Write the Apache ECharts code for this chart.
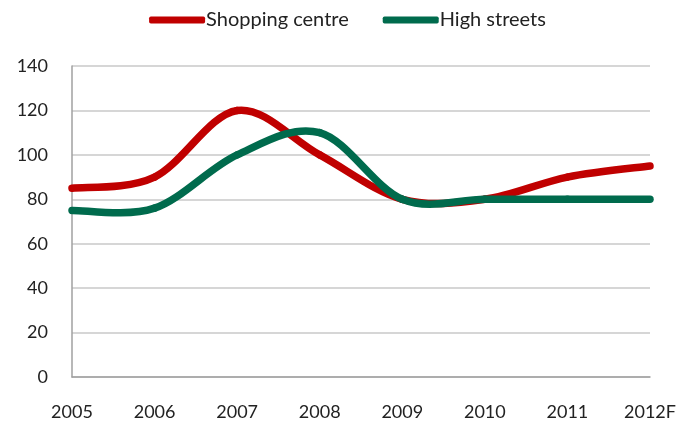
<!DOCTYPE html>
<html><head><meta charset="utf-8">
<script src="https://cdn.jsdelivr.net/npm/echarts@6/dist/echarts.min.js"></script>
<style>html,body{margin:0;padding:0;background:#fff}#c{width:695px;height:426px}</style>
</head><body><div id="c"></div>
<script>
const categories = ['2005','2006','2007','2008','2009','2010','2011','2012F'];
const shoppingCentre = [85, 90, 120, 100, 80, 80, 90, 95];
const highStreets = [75, 76, 100, 110, 80, 80, 80, 80];
const yTicks = {min: 0, max: 140, interval: 20};

const font = 'Lato';
const RED = '#C00000', GREEN = '#006B4D';

// Excel-like (Catmull-Rom) smoothed segment drawn through the axis scales
function smoothRenderer(values, color) {
  return function (params, api) {
    const i = params.dataIndex;
    const n = values.length;
    if (i >= n - 1) return null;
    const p = k => api.coord([Math.max(0, Math.min(n - 1, k)), values[Math.max(0, Math.min(n - 1, k))]]);
    const p0 = p(i - 1), p1 = p(i), p2 = p(i + 1), p3 = p(i + 2);
    const t = 1 / 6;
    return {
      type: 'bezierCurve',
      shape: {
        x1: p1[0], y1: p1[1], x2: p2[0], y2: p2[1],
        cpx1: p1[0] + (p2[0] - p0[0]) * t, cpy1: p1[1] + (p2[1] - p0[1]) * t,
        cpx2: p2[0] - (p3[0] - p1[0]) * t, cpy2: p2[1] - (p3[1] - p1[1]) * t
      },
      style: {stroke: color, lineWidth: 7.5, lineCap: 'round', fill: null}
    };
  };
}

const chart = echarts.init(document.getElementById('c'), null, {renderer: 'canvas'});
chart.setOption({
  animation: false,
  textStyle: {fontFamily: font},
  legend: {
    top: 5, left: 'center', itemGap: 34, itemWidth: 56, itemHeight: 7,
    icon: 'roundRect',
    textStyle: {fontFamily: font, fontSize: 20, color: '#222', padding: [0,0,0,-4]},
    data: ['Shopping centre', 'High streets']
  },
  grid: {left: 72, right: 45, top: 66, bottom: 49},
  xAxis: {
    type: 'category', data: categories, boundaryGap: false,
    axisLine: {lineStyle: {color: '#a0a0a0', width: 1.5}},
    axisTick: {show: false},
    axisLabel: {fontFamily: font, fontSize: 18, color: '#222', margin: 26}
  },
  yAxis: {
    type: 'value', min: yTicks.min, max: yTicks.max, interval: yTicks.interval,
    axisLine: {show: true, lineStyle: {color: '#a0a0a0', width: 1.5}},
    axisTick: {show: false},
    splitLine: {lineStyle: {color: '#c8c8c8', width: 1.5}},
    axisLabel: {fontFamily: font, fontSize: 18, color: '#222', margin: 24}
  },
  series: [
    {name: 'Shopping centre', type: 'custom', clip: false,
     data: shoppingCentre.map((v, i) => [i, v]), encode: {x: 0, y: 1},
     itemStyle: {color: RED}, renderItem: smoothRenderer(shoppingCentre, RED)},
    {name: 'High streets', type: 'custom', clip: false,
     data: highStreets.map((v, i) => [i, v]), encode: {x: 0, y: 1},
     itemStyle: {color: GREEN}, renderItem: smoothRenderer(highStreets, GREEN)}
  ]
});
</script></body></html>
